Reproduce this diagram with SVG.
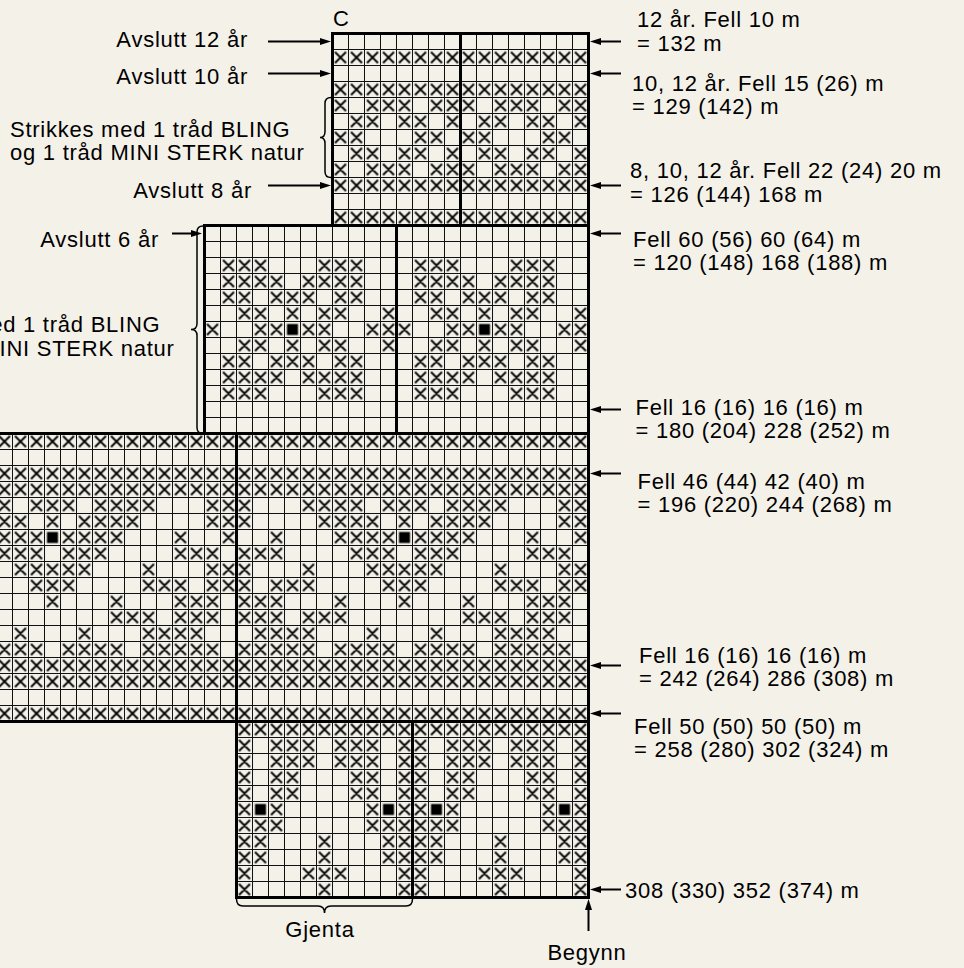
<svg xmlns="http://www.w3.org/2000/svg" width="964" height="968" viewBox="0 0 964 968">
<style>
.x{fill:none;stroke:#000;stroke-width:1.8}
.sq{fill:#000}
.thick{fill:none;stroke:#000;stroke-width:3}
.t{font-family:"Liberation Sans",Arial,Helvetica,sans-serif;font-size:22px;letter-spacing:0.75px;fill:#000}
.e{text-anchor:end}
.m{text-anchor:middle}
.ar{fill:none;stroke:#000;stroke-width:2}
.br{fill:none;stroke:#000;stroke-width:1.5}
</style>
<defs>
<marker id="ah" viewBox="0 0 11 7" refX="2" refY="3.5" markerWidth="11" markerHeight="7" markerUnits="userSpaceOnUse" orient="auto"><path d="M0 0L11 3.5L0 7z" fill="#000"/></marker>
<pattern id="pg" x="12" y="1" width="16" height="16" patternUnits="userSpaceOnUse"><path d="M0 0.5H16M0.5 0V16" fill="none" stroke="#111" stroke-width="1"/></pattern>
<pattern id="px" x="12.5" y="1.5" width="16" height="16" patternUnits="userSpaceOnUse"><path class="x" d="M2.5 2.5l11 11m-11 0l11-11"/></pattern>
<path id="tA" class="x" d="M2.5 2.5l11 11m-11 0l11-11M34.5 2.5l11 11m-11 0l11-11M50.5 2.5l11 11m-11 0l11-11M66.5 2.5l11 11m-11 0l11-11M98.5 2.5l11 11m-11 0l11-11M114.5 2.5l11 11m-11 0l11-11"/>
<path id="tB" class="x" d="M18.5 2.5l11 11m-11 0l11-11M34.5 2.5l11 11m-11 0l11-11M66.5 2.5l11 11m-11 0l11-11M82.5 2.5l11 11m-11 0l11-11M114.5 2.5l11 11m-11 0l11-11"/>
<path id="tC" class="x" d="M2.5 2.5l11 11m-11 0l11-11M18.5 2.5l11 11m-11 0l11-11M82.5 2.5l11 11m-11 0l11-11M98.5 2.5l11 11m-11 0l11-11"/>
<path id="mA" class="x" d="M18.5 2.5l11 11m-11 0l11-11M34.5 2.5l11 11m-11 0l11-11M50.5 2.5l11 11m-11 0l11-11M114.5 2.5l11 11m-11 0l11-11M130.5 2.5l11 11m-11 0l11-11M146.5 2.5l11 11m-11 0l11-11"/>
<path id="mB" class="x" d="M18.5 2.5l11 11m-11 0l11-11M34.5 2.5l11 11m-11 0l11-11M50.5 2.5l11 11m-11 0l11-11M66.5 2.5l11 11m-11 0l11-11M98.5 2.5l11 11m-11 0l11-11M114.5 2.5l11 11m-11 0l11-11M130.5 2.5l11 11m-11 0l11-11M146.5 2.5l11 11m-11 0l11-11"/>
<path id="mC" class="x" d="M18.5 2.5l11 11m-11 0l11-11M34.5 2.5l11 11m-11 0l11-11M66.5 2.5l11 11m-11 0l11-11M82.5 2.5l11 11m-11 0l11-11M98.5 2.5l11 11m-11 0l11-11M130.5 2.5l11 11m-11 0l11-11M146.5 2.5l11 11m-11 0l11-11"/>
<path id="mD" class="x" d="M34.5 2.5l11 11m-11 0l11-11M50.5 2.5l11 11m-11 0l11-11M82.5 2.5l11 11m-11 0l11-11M114.5 2.5l11 11m-11 0l11-11M130.5 2.5l11 11m-11 0l11-11M178.5 2.5l11 11m-11 0l11-11"/>
<path id="mE" class="x" d="M2.5 2.5l11 11m-11 0l11-11M50.5 2.5l11 11m-11 0l11-11M66.5 2.5l11 11m-11 0l11-11M98.5 2.5l11 11m-11 0l11-11M114.5 2.5l11 11m-11 0l11-11M162.5 2.5l11 11m-11 0l11-11M178.5 2.5l11 11m-11 0l11-11"/>
<path id="g0" class="x" d="M2.5 2.5l11 11m-11 0l11-11M66.5 2.5l11 11m-11 0l11-11M82.5 2.5l11 11m-11 0l11-11M98.5 2.5l11 11m-11 0l11-11M114.5 2.5l11 11m-11 0l11-11M146.5 2.5l11 11m-11 0l11-11M162.5 2.5l11 11m-11 0l11-11M178.5 2.5l11 11m-11 0l11-11M210.5 2.5l11 11m-11 0l11-11M226.5 2.5l11 11m-11 0l11-11M242.5 2.5l11 11m-11 0l11-11M258.5 2.5l11 11m-11 0l11-11M322.5 2.5l11 11m-11 0l11-11M338.5 2.5l11 11m-11 0l11-11"/>
<path id="g1" class="x" d="M2.5 2.5l11 11m-11 0l11-11M82.5 2.5l11 11m-11 0l11-11M98.5 2.5l11 11m-11 0l11-11M114.5 2.5l11 11m-11 0l11-11M130.5 2.5l11 11m-11 0l11-11M162.5 2.5l11 11m-11 0l11-11M194.5 2.5l11 11m-11 0l11-11M210.5 2.5l11 11m-11 0l11-11M226.5 2.5l11 11m-11 0l11-11M242.5 2.5l11 11m-11 0l11-11M322.5 2.5l11 11m-11 0l11-11M338.5 2.5l11 11m-11 0l11-11"/>
<path id="g2" class="x" d="M34.5 2.5l11 11m-11 0l11-11M98.5 2.5l11 11m-11 0l11-11M114.5 2.5l11 11m-11 0l11-11M130.5 2.5l11 11m-11 0l11-11M146.5 2.5l11 11m-11 0l11-11M178.5 2.5l11 11m-11 0l11-11M194.5 2.5l11 11m-11 0l11-11M210.5 2.5l11 11m-11 0l11-11M226.5 2.5l11 11m-11 0l11-11M290.5 2.5l11 11m-11 0l11-11M338.5 2.5l11 11m-11 0l11-11"/>
<path id="g3" class="x" d="M2.5 2.5l11 11m-11 0l11-11M18.5 2.5l11 11m-11 0l11-11M34.5 2.5l11 11m-11 0l11-11M114.5 2.5l11 11m-11 0l11-11M130.5 2.5l11 11m-11 0l11-11M146.5 2.5l11 11m-11 0l11-11M178.5 2.5l11 11m-11 0l11-11M194.5 2.5l11 11m-11 0l11-11M210.5 2.5l11 11m-11 0l11-11M290.5 2.5l11 11m-11 0l11-11M306.5 2.5l11 11m-11 0l11-11M322.5 2.5l11 11m-11 0l11-11"/>
<path id="g4" class="x" d="M2.5 2.5l11 11m-11 0l11-11M66.5 2.5l11 11m-11 0l11-11M130.5 2.5l11 11m-11 0l11-11M146.5 2.5l11 11m-11 0l11-11M162.5 2.5l11 11m-11 0l11-11M178.5 2.5l11 11m-11 0l11-11M194.5 2.5l11 11m-11 0l11-11M258.5 2.5l11 11m-11 0l11-11M322.5 2.5l11 11m-11 0l11-11M338.5 2.5l11 11m-11 0l11-11"/>
<path id="g5" class="x" d="M2.5 2.5l11 11m-11 0l11-11M34.5 2.5l11 11m-11 0l11-11M50.5 2.5l11 11m-11 0l11-11M66.5 2.5l11 11m-11 0l11-11M146.5 2.5l11 11m-11 0l11-11M162.5 2.5l11 11m-11 0l11-11M178.5 2.5l11 11m-11 0l11-11M258.5 2.5l11 11m-11 0l11-11M274.5 2.5l11 11m-11 0l11-11M290.5 2.5l11 11m-11 0l11-11M322.5 2.5l11 11m-11 0l11-11M338.5 2.5l11 11m-11 0l11-11"/>
<path id="g6" class="x" d="M2.5 2.5l11 11m-11 0l11-11M18.5 2.5l11 11m-11 0l11-11M34.5 2.5l11 11m-11 0l11-11M98.5 2.5l11 11m-11 0l11-11M162.5 2.5l11 11m-11 0l11-11M226.5 2.5l11 11m-11 0l11-11M290.5 2.5l11 11m-11 0l11-11M306.5 2.5l11 11m-11 0l11-11M322.5 2.5l11 11m-11 0l11-11"/>
<path id="g7" class="x" d="M2.5 2.5l11 11m-11 0l11-11M18.5 2.5l11 11m-11 0l11-11M34.5 2.5l11 11m-11 0l11-11M66.5 2.5l11 11m-11 0l11-11M82.5 2.5l11 11m-11 0l11-11M98.5 2.5l11 11m-11 0l11-11M226.5 2.5l11 11m-11 0l11-11M242.5 2.5l11 11m-11 0l11-11M258.5 2.5l11 11m-11 0l11-11M290.5 2.5l11 11m-11 0l11-11M306.5 2.5l11 11m-11 0l11-11M322.5 2.5l11 11m-11 0l11-11"/>
<path id="g8" class="x" d="M18.5 2.5l11 11m-11 0l11-11M34.5 2.5l11 11m-11 0l11-11M50.5 2.5l11 11m-11 0l11-11M66.5 2.5l11 11m-11 0l11-11M130.5 2.5l11 11m-11 0l11-11M194.5 2.5l11 11m-11 0l11-11M258.5 2.5l11 11m-11 0l11-11M274.5 2.5l11 11m-11 0l11-11M290.5 2.5l11 11m-11 0l11-11M306.5 2.5l11 11m-11 0l11-11"/>
<path id="g9" class="x" d="M2.5 2.5l11 11m-11 0l11-11M18.5 2.5l11 11m-11 0l11-11M34.5 2.5l11 11m-11 0l11-11M50.5 2.5l11 11m-11 0l11-11M66.5 2.5l11 11m-11 0l11-11M98.5 2.5l11 11m-11 0l11-11M114.5 2.5l11 11m-11 0l11-11M130.5 2.5l11 11m-11 0l11-11M146.5 2.5l11 11m-11 0l11-11M178.5 2.5l11 11m-11 0l11-11M194.5 2.5l11 11m-11 0l11-11M210.5 2.5l11 11m-11 0l11-11M226.5 2.5l11 11m-11 0l11-11M258.5 2.5l11 11m-11 0l11-11M274.5 2.5l11 11m-11 0l11-11M290.5 2.5l11 11m-11 0l11-11M306.5 2.5l11 11m-11 0l11-11M322.5 2.5l11 11m-11 0l11-11"/>
<path id="bA" class="x" d="M2.5 2.5l11 11m-11 0l11-11M34.5 2.5l11 11m-11 0l11-11M50.5 2.5l11 11m-11 0l11-11M66.5 2.5l11 11m-11 0l11-11M98.5 2.5l11 11m-11 0l11-11M114.5 2.5l11 11m-11 0l11-11M130.5 2.5l11 11m-11 0l11-11M162.5 2.5l11 11m-11 0l11-11"/>
<path id="bB" class="x" d="M2.5 2.5l11 11m-11 0l11-11M34.5 2.5l11 11m-11 0l11-11M50.5 2.5l11 11m-11 0l11-11M114.5 2.5l11 11m-11 0l11-11M130.5 2.5l11 11m-11 0l11-11M162.5 2.5l11 11m-11 0l11-11"/>
<path id="bC" class="x" d="M2.5 2.5l11 11m-11 0l11-11M34.5 2.5l11 11m-11 0l11-11M130.5 2.5l11 11m-11 0l11-11M162.5 2.5l11 11m-11 0l11-11"/>
<path id="bD" class="x" d="M2.5 2.5l11 11m-11 0l11-11M18.5 2.5l11 11m-11 0l11-11M34.5 2.5l11 11m-11 0l11-11M130.5 2.5l11 11m-11 0l11-11M146.5 2.5l11 11m-11 0l11-11M162.5 2.5l11 11m-11 0l11-11"/>
<path id="bE" class="x" d="M2.5 2.5l11 11m-11 0l11-11M18.5 2.5l11 11m-11 0l11-11M82.5 2.5l11 11m-11 0l11-11M146.5 2.5l11 11m-11 0l11-11M162.5 2.5l11 11m-11 0l11-11"/>
<path id="bF" class="x" d="M2.5 2.5l11 11m-11 0l11-11M66.5 2.5l11 11m-11 0l11-11M82.5 2.5l11 11m-11 0l11-11M98.5 2.5l11 11m-11 0l11-11M162.5 2.5l11 11m-11 0l11-11"/>
<path id="bG" class="x" d="M2.5 2.5l11 11m-11 0l11-11M82.5 2.5l11 11m-11 0l11-11M162.5 2.5l11 11m-11 0l11-11"/>
<pattern id="pT" x="332.5" y="97.5" width="128" height="80" patternUnits="userSpaceOnUse"><use href="#tA"/><use href="#tB" y="16"/><use href="#tC" y="32"/><use href="#tB" y="48"/><use href="#tA" y="64"/></pattern>
<pattern id="pM" x="204.5" y="257.5" width="192" height="144" patternUnits="userSpaceOnUse"><use href="#mA"/><use href="#mB" y="16"/><use href="#mC" y="32"/><use href="#mD" y="48"/><use href="#mE" y="64"/><rect class="sq" x="82.5" y="66.5" width="11" height="11"/><use href="#mD" y="80"/><use href="#mC" y="96"/><use href="#mB" y="112"/><use href="#mA" y="128"/></pattern>
<pattern id="pB" x="236.5" y="497.5" width="352" height="160" patternUnits="userSpaceOnUse"><use href="#g0"/><use href="#g1" y="16"/><use href="#g2" y="32"/><rect class="sq" x="162.5" y="34.5" width="11" height="11"/><use href="#g3" y="48"/><use href="#g4" y="64"/><use href="#g5" y="80"/><use href="#g6" y="96"/><use href="#g7" y="112"/><use href="#g8" y="128"/><use href="#g9" y="144"/></pattern>
<pattern id="pBt" x="236.5" y="737.5" width="176" height="160" patternUnits="userSpaceOnUse"><use href="#bA"/><use href="#bA" y="16"/><use href="#bB" y="32"/><use href="#bB" y="48"/><use href="#bC" y="64"/><rect class="sq" x="18.5" y="66.5" width="11" height="11"/><rect class="sq" x="146.5" y="66.5" width="11" height="11"/><use href="#bD" y="80"/><use href="#bE" y="96"/><use href="#bE" y="112"/><use href="#bF" y="128"/><use href="#bG" y="144"/></pattern>
</defs>
<rect width="964" height="968" fill="#f4f1e9"/>
<g id="chart-top">
<rect x="332.5" y="33.5" width="256" height="192" fill="url(#pg)"/>
<rect x="332.5" y="49.5" width="256" height="16" fill="url(#px)"/>
<rect x="332.5" y="81.5" width="256" height="16" fill="url(#px)"/>
<rect x="332.5" y="97.5" width="256" height="80" fill="url(#pT)"/>
<rect x="332.5" y="177.5" width="256" height="16" fill="url(#px)"/>
<rect x="332.5" y="209.5" width="256" height="16" fill="url(#px)"/>
<rect class="thick" x="332.5" y="33.5" width="256" height="192"/>
<path class="thick" d="M460.5 33.5V225.5"/>
</g>
<g id="chart-middle">
<rect x="204.5" y="225.5" width="384" height="208" fill="url(#pg)"/>
<rect x="204.5" y="257.5" width="384" height="144" fill="url(#pM)"/>
<rect class="thick" x="204.5" y="225.5" width="384" height="208"/>
<path class="thick" d="M396.5 225.5V433.5"/>
</g>
<g id="chart-body">
<rect x="0" y="433.5" width="588.5" height="288" fill="url(#pg)"/>
<rect x="0" y="433.5" width="588.5" height="16" fill="url(#px)"/>
<rect x="0" y="465.5" width="588.5" height="32" fill="url(#px)"/>
<rect x="0" y="497.5" width="588.5" height="160" fill="url(#pB)"/>
<rect x="0" y="657.5" width="588.5" height="32" fill="url(#px)"/>
<rect x="0" y="705.5" width="588.5" height="16" fill="url(#px)"/>
<path class="thick" d="M-5 433.5H588.5V721.5H-5M236.5 433.5V721.5"/>
</g>
<g id="chart-bottom">
<rect x="236.5" y="721.5" width="352" height="176" fill="url(#pg)"/>
<rect x="236.5" y="721.5" width="352" height="16" fill="url(#px)"/>
<rect x="236.5" y="737.5" width="352" height="160" fill="url(#pBt)"/>
<rect class="thick" x="236.5" y="721.5" width="352" height="176"/>
<path class="thick" d="M412.5 721.5V897.5"/>
</g>
<g id="connectors">
<path class="ar" marker-end="url(#ah)" d="M268 41.5H322"/>
<path class="ar" marker-end="url(#ah)" d="M268 73.5H322"/>
<path class="ar" marker-end="url(#ah)" d="M268 185.5H322"/>
<path class="ar" marker-end="url(#ah)" d="M172 233.5H193"/>
<path class="ar" marker-end="url(#ah)" d="M621 41.5H599"/>
<path class="ar" marker-end="url(#ah)" d="M621 73.5H599"/>
<path class="ar" marker-end="url(#ah)" d="M621 185.5H599"/>
<path class="ar" marker-end="url(#ah)" d="M621 233.5H599"/>
<path class="ar" marker-end="url(#ah)" d="M621 409.5H599"/>
<path class="ar" marker-end="url(#ah)" d="M621 473.5H599"/>
<path class="ar" marker-end="url(#ah)" d="M621 665.5H599"/>
<path class="ar" marker-end="url(#ah)" d="M621 713.5H599"/>
<path class="ar" marker-end="url(#ah)" d="M621 889.5H599"/>
<path class="ar" marker-end="url(#ah)" d="M588.5 931V908"/>
<path class="br" d="M331 97.5Q325 97.5 325 103.5V131.5Q325 137.5 320 137.5Q325 137.5 325 143.5V171.5Q325 177.5 331 177.5"/>
<path class="br" d="M203 226Q197 226 197 232V323.5Q197 329.5 191 329.5Q197 329.5 197 335.5V427.5Q197 433.5 203 433.5"/>
<path class="br" d="M236.5 899Q236.5 906 243 906H318Q324.5 906 324.5 913Q324.5 906 331 906H406Q412.5 906 412.5 899"/>
</g>
<g id="labels" class="t">
<text x="333" y="26">C</text>
<text class="e" x="248" y="47">Avslutt 12 år</text>
<text class="e" x="248" y="84">Avslutt 10 år</text>
<text x="10" y="137">Strikkes med 1 tråd BLING</text>
<text x="10" y="160">og 1 tråd MINI STERK natur</text>
<text class="e" x="252" y="198">Avslutt 8 år</text>
<text class="e" x="159" y="247">Avslutt 6 år</text>
<text x="-120" y="332">Strikkes med 1 tråd BLING</text>
<text x="-120" y="356">og 1 tråd MINI STERK natur</text>
<text x="637" y="27">12 år. Fell 10 m</text>
<text x="637" y="51">= 132 m</text>
<text x="632" y="91">10, 12 år. Fell 15 (26) m</text>
<text x="632" y="114">= 129 (142) m</text>
<text x="630" y="178">8, 10, 12 år. Fell 22 (24) 20 m</text>
<text x="630" y="202">= 126 (144) 168 m</text>
<text x="633" y="247">Fell 60 (56) 60 (64) m</text>
<text x="633" y="270">= 120 (148) 168 (188) m</text>
<text x="635.5" y="415">Fell 16 (16) 16 (16) m</text>
<text x="635.5" y="438">= 180 (204) 228 (252) m</text>
<text x="637.5" y="489">Fell 46 (44) 42 (40) m</text>
<text x="637.5" y="512">= 196 (220) 244 (268) m</text>
<text x="639" y="663">Fell 16 (16) 16 (16) m</text>
<text x="639" y="686">= 242 (264) 286 (308) m</text>
<text x="634" y="734">Fell 50 (50) 50 (50) m</text>
<text x="634" y="757">= 258 (280) 302 (324) m</text>
<text x="625" y="898">308 (330) 352 (374) m</text>
<text class="m" x="320" y="937">Gjenta</text>
<text class="m" x="587" y="960">Begynn</text>
</g>
</svg>
